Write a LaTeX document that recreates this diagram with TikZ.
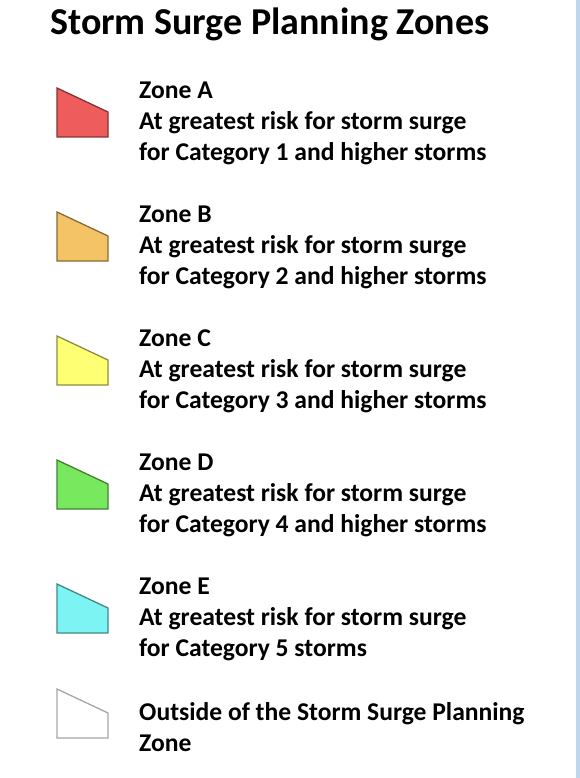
\documentclass[tikz,border=0pt]{standalone}
\usepackage{fontspec}
\setmainfont{Carlito}
\usetikzlibrary{calc}
\definecolor{zoneA}{HTML}{EE5C5C}
\definecolor{zoneB}{HTML}{F4C366}
\definecolor{zoneC}{HTML}{FFFF73}
\definecolor{zoneD}{HTML}{78E85E}
\definecolor{zoneE}{HTML}{7DF4F4}
\definecolor{sidebar}{HTML}{BDD7EE}
\newcommand{\SSKeyWidth}{51}
\newcommand{\SSKeyDrop}{24}
\newcommand{\SSKeyHeight}{49}
\newcommand{\SSZoneKey}[4]{
  \coordinate (#1) at (57,#2);
  \draw [zonekey, fill=#3, draw=#3!55!black] (#1) -- ++(\SSKeyWidth,\SSKeyDrop)
    -- ($(#1) +(\SSKeyWidth,\SSKeyHeight)$) -- ($(#1) +(0,\SSKeyHeight)$) -- cycle;
  \node [zonetext] (#1text) at ($(#1) +(82,-6.5)$) {#4};
}
\tikzset{
  zonekey/.style={line width=1.3pt, line join=miter},
  zonetext/.style={anchor=north west, inner sep=0pt, align=left,
    font=\bfseries\fontsize{25.6}{31}\selectfont},
}
\begin{document}
\begin{tikzpicture}[x=1pt,y=-1pt]
\useasboundingbox (0,0) rectangle (580,778);
\fill [sidebar] (576,0) rectangle (580,778);
\node [anchor=base west, inner sep=0pt, font=\bfseries\fontsize{38}{44}\selectfont] (title) at (50,35) {Storm Surge Planning Zones};

\SSZoneKey{za}{88}{zoneA}{Zone A\\At greatest risk for storm surge\\for Category 1 and higher storms}
\SSZoneKey{zb}{212}{zoneB}{Zone B\\At greatest risk for storm surge\\for Category 2 and higher storms}
\SSZoneKey{zc}{336}{zoneC}{Zone C\\At greatest risk for storm surge\\for Category 3 and higher storms}
\SSZoneKey{zd}{460}{zoneD}{Zone D\\At greatest risk for storm surge\\for Category 4 and higher storms}
\SSZoneKey{ze}{584}{zoneE}{Zone E\\At greatest risk for storm surge\\for Category 5 storms}

% outside zone: plain outline
\coordinate (zo) at (57,689);
\draw [zonekey, fill=white, draw=black!35] (zo) -- ++(\SSKeyWidth,\SSKeyDrop)
  -- ($(zo) +(\SSKeyWidth,\SSKeyHeight)$) -- ($(zo) +(0,\SSKeyHeight)$) -- cycle;
\node [zonetext] (zotext) at (139,702) {Outside of the Storm Surge Planning\\Zone};
\end{tikzpicture}
\end{document}
